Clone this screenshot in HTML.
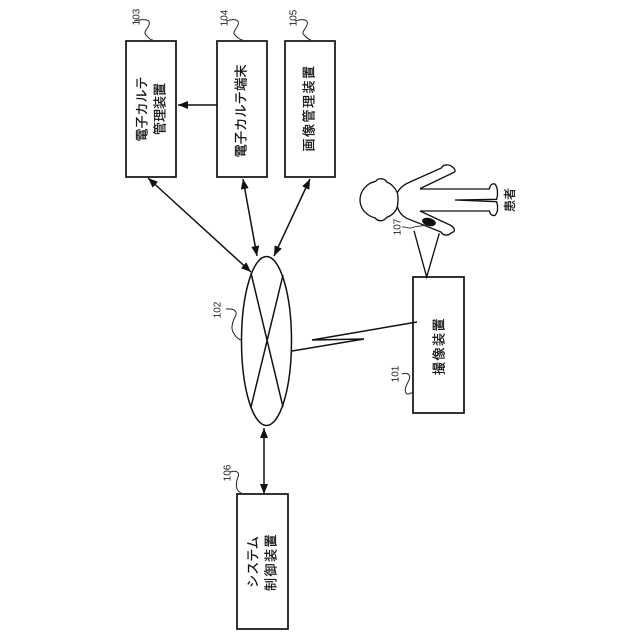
<!DOCTYPE html>
<html>
<head>
<meta charset="utf-8">
<style>
html,body{margin:0;padding:0;background:#fff;}
svg{display:block;}
.j{font-family:"Liberation Sans","Noto Sans CJK JP",sans-serif;font-size:13px;fill:#111;stroke:#111;stroke-width:.25;text-anchor:middle;dominant-baseline:central;}
.n{font-family:"Liberation Sans",sans-serif;font-size:10px;fill:#222;text-anchor:middle;dominant-baseline:central;}
.s{fill:none;stroke:#222;stroke-width:1;}
.b{fill:#fff;stroke:#111;stroke-width:1.7;}
.l{fill:none;stroke:#111;stroke-width:1.5;}
</style>
</head>
<body>
<svg width="640" height="640" viewBox="0 0 640 640" xmlns="http://www.w3.org/2000/svg">
<defs>
<marker id="a" viewBox="0 0 10 8" refX="10" refY="4" markerWidth="10" markerHeight="8" markerUnits="userSpaceOnUse" orient="auto-start-reverse"><path d="M0,0L10,4L0,8Z" fill="#111"/></marker>
</defs>

<!-- boxes -->
<rect class="b" x="126" y="41" width="50" height="136"/>
<rect class="b" x="217" y="41" width="50" height="136"/>
<rect class="b" x="285" y="41" width="50" height="136"/>
<rect class="b" x="413" y="277" width="51" height="136"/>
<rect class="b" x="237" y="494" width="51" height="135"/>

<!-- network -->
<ellipse class="l" cx="266.5" cy="341" rx="25" ry="84.5"/>
<path class="l" d="M251,273L283,407M283,275L251,407"/>

<!-- arrows -->
<path class="l" d="M217,105L178,105" marker-end="url(#a)"/>
<path class="l" d="M148,178L251,272" marker-start="url(#a)" marker-end="url(#a)"/>
<path class="l" d="M243,179L257,256" marker-start="url(#a)" marker-end="url(#a)"/>
<path class="l" d="M310,179L274,256" marker-start="url(#a)" marker-end="url(#a)"/>
<path class="l" d="M264,428L264,494" marker-start="url(#a)" marker-end="url(#a)"/>

<!-- lightning link -->
<path class="l" d="M292,351L364,339L312,340L417,322"/>

<!-- box text -->
<text class="j" transform="translate(142,109) rotate(-90)">電子カルテ</text>
<text class="j" transform="translate(160,109) rotate(-90)">管理装置</text>
<text class="j" transform="translate(241,111) rotate(-90)" style="font-size:13.3px">電子カルテ端末</text>
<text class="j" transform="translate(309,108) rotate(-90)" style="letter-spacing:1.5px">画像管理装置</text>
<text class="j" transform="translate(439,346) rotate(-90)" style="letter-spacing:1.5px">撮像装置</text>
<text class="j" transform="translate(253,562) rotate(-90)">システム</text>
<text class="j" transform="translate(271,562) rotate(-90)" style="letter-spacing:1.5px">制御装置</text>
<text class="j" transform="translate(510,200) rotate(-90)" style="font-size:12px">患者</text>

<!-- reference numbers -->
<text class="n" transform="translate(137,17) rotate(-90)">103</text>
<text class="n" transform="translate(225,18) rotate(-90)">104</text>
<text class="n" transform="translate(294,18) rotate(-90)">105</text>
<text class="n" transform="translate(218,310) rotate(-90)">102</text>
<text class="n" transform="translate(396,374) rotate(-90)">101</text>
<text class="n" transform="translate(228,473) rotate(-90)">106</text>
<text class="n" transform="translate(398,227) rotate(-90)">107</text>

<!-- leader squiggles -->
<path class="s" d="M134,21C146,18 151,20 149,25C147,30 143,32 146,35C149,38 150,40 153,40"/>
<path class="s" d="M226,21C235,18 240,20 238,25C236,30 232,32 235,35C238,38 240,40 243,40"/>
<path class="s" d="M295,21C304,18 309,20 307,25C305,30 301,32 304,35C307,38 309,40 311,40"/>
<path class="s" d="M226,309C235,308 238,312 235,317C232,323 231,328 233,332C235,336 238,339 241,340"/>
<path class="s" d="M402,374C408,372 411,375 409,380C406,386 404,390 406,393C408,396 410,392 413,393"/>
<path class="s" d="M230,472C236,470 240,472 238,477C236,482 236,486 237,489C238,492 241,493 243,494"/>

<!-- patient -->
<g transform="translate(340,150) scale(0.3333)" fill="none" stroke="#111" stroke-width="4">
<path d="M172,128C165,112 152,100 140,96C135,85 115,82 107,94C78,100 60,125 60,150C60,175 78,197 106,204C113,216 133,214 140,202C155,197 168,185 172,170C175,155 175,142 172,128Z"/>
<path d="M172,128C180,112 195,102 210,96L304,54C310,42 325,44 332,47C345,55 350,65 340,68L240,116"/>
<path d="M240,117L448,117C450,105 458,98 466,103C474,115 474,135 470,148L345,150L470,155C475,170 474,188 465,196C456,199 450,192 448,183L240,183"/>
<path d="M240,183L330,225C345,233 348,245 335,248C325,258 310,258 303,246L200,205C185,197 176,185 172,170"/>
<path d="M186,232C195,226 205,240 220,232C232,226 245,232 262,222" stroke-width="2.4"/>
<ellipse cx="267" cy="216" rx="19" ry="10" transform="rotate(15 267 216)" fill="#111"/>
<path d="M222,242L260,381L298,250"/>
</g>
</svg>
</body>
</html>
